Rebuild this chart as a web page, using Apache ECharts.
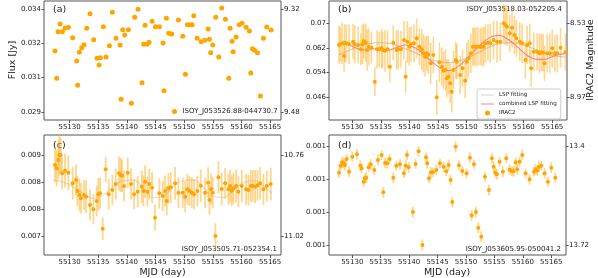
<!DOCTYPE html>
<html><head><meta charset="utf-8">
<script src="https://cdn.jsdelivr.net/npm/echarts@6/dist/echarts.min.js"></script>
<style>html,body{margin:0;padding:0;background:#fff}#c{width:598px;height:278px}</style>
</head><body><div id="c"></div>
<script>
// ---------- tick labels ----------
const xTicks = [55130,55135,55140,55145,55150,55155,55160,55165];
const magTicksA = [9.32, 9.48];
const magTicksB = [8.53, 8.97];
const magTicksC = [10.76, 11.02];
const magTicksD = [13.4, 13.72];

// ---------- names ----------
const nameA = 'ISOY_J053526.88-044730.7';
const nameB = 'ISOY_J053518.03-052205.4';
const nameC = 'ISOY_J053505.71-052354.1';
const nameD = 'ISOY_J053605.95-050041.2';

// ---------- panel (a) ----------
const mjdA = [55127.46,55127.75,55127.99,55128.34,55128.74,55129.21,55129.79,55130.55,55131.25,55131.42,55131.71,55132.12,55132.53,55132.99,55133.57,55134.21,55134.80,55135.15,55135.38,55135.90,55136.37,55136.95,55137.47,55138.11,55138.81,55138.99,55139.28,55139.63,55140.27,55140.79,55141.37,55141.96,55142.65,55142.94,55143.18,55143.53,55143.88,55144.40,55144.98,55145.68,55146.32,55146.49,55146.90,55147.31,55147.83,55149.00,55149.75,55150.22,55150.57,55150.92,55151.38,55151.67,55152.26,55152.96,55153.60,55154.18,55154.41,55154.64,55154.99,55155.52,55156.04,55156.56,55157.20,55157.79,55158.02,55158.37,55158.54,55159.07,55159.59,55160.11,55160.81,55161.39,55161.63,55161.92,55162.27,55162.79,55163.31,55163.84,55164.42,55165.18];
const fluxA = [0.031738,0.030516,0.032603,0.032946,0.032603,0.032752,0.032797,0.032335,0.031291,0.030203,0.031679,0.031887,0.032021,0.032752,0.033408,0.032245,0.03141,0.031112,0.03144,0.032826,0.03147,0.031977,0.033467,0.032305,0.032007,0.029577,0.032692,0.032454,0.032692,0.029398,0.033244,0.033602,0.030322,0.032036,0.032886,0.032036,0.032126,0.033065,0.032826,0.032826,0.032096,0.029964,0.033199,0.032528,0.032498,0.033125,0.032394,0.030695,0.032916,0.032916,0.032916,0.033318,0.032305,0.032156,0.032215,0.032722,0.03226,0.031664,0.032007,0.033244,0.03147,0.033661,0.033154,0.030516,0.032752,0.032171,0.031708,0.032364,0.032916,0.032976,0.032797,0.032633,0.030754,0.031843,0.031768,0.031664,0.029726,0.032305,0.032812,0.032677];

// ---------- panel (b) ----------
const mjdB = [55127.66,55127.89,55128.19,55128.54,55128.65,55128.95,55129.42,55130.12,55130.41,55131.00,55131.47,55131.76,55132.00,55132.35,55132.58,55132.88,55133.34,55133.93,55134.34,55134.69,55135.10,55135.28,55135.69,55136.16,55136.57,55137.16,55137.74,55138.04,55138.50,55139.03,55139.33,55139.62,55139.97,55140.26,55140.79,55141.26,55141.73,55142.14,55142.43,55142.73,55143.02,55143.31,55143.72,55144.19,55144.78,55145.25,55145.66,55145.95,55146.30,55146.54,55146.83,55147.12,55147.42,55147.71,55148.12,55148.30,55148.88,55149.29,55149.76,55150.05,55150.35,55150.76,55151.11,55151.34,55151.64,55151.99,55152.40,55152.69,55152.99,55153.28,55153.75,55154.16,55154.74,55155.33,55155.92,55156.50,55156.80,55157.09,55157.56,55157.97,55158.38,55158.73,55159.32,55159.73,55160.31,55160.61,55161.08,55161.31,55161.78,55162.37,55162.78,55163.13,55163.42,55163.66,55164.13,55164.59,55165.01,55165.47,55165.88,55166.47,55167.35];
const fluxB = [0.06280,0.06301,0.06332,0.05936,0.06332,0.06332,0.06301,0.06385,0.06301,0.06280,0.06144,0.06301,0.06405,0.06353,0.06123,0.06228,0.06197,0.05131,0.06144,0.06144,0.06176,0.06123,0.06103,0.06144,0.05602,0.06353,0.06123,0.06144,0.06144,0.06437,0.05288,0.06385,0.06228,0.06311,0.06332,0.06489,0.06228,0.06144,0.06019,0.05915,0.06019,0.05977,0.05706,0.05967,0.04640,0.05737,0.05602,0.05476,0.05497,0.05236,0.05288,0.05079,0.04818,0.05497,0.05810,0.05758,0.05340,0.05549,0.05163,0.05758,0.05862,0.06019,0.06228,0.06228,0.06228,0.06228,0.06228,0.06228,0.06228,0.06332,0.06353,0.06332,0.06437,0.06385,0.06385,0.06959,0.06907,0.06855,0.06646,0.06823,0.06594,0.06489,0.06385,0.06332,0.05810,0.06280,0.06332,0.05549,0.06071,0.06071,0.06019,0.06050,0.06040,0.05706,0.06019,0.06019,0.06176,0.06019,0.06019,0.06197,0.06050];
const errB = [0.0060,0.0055,0.0065,0.0050,0.0060,0.0058,0.0062,0.0055,0.0060,0.0058,0.0050,0.0062,0.0055,0.0060,0.0065,0.0058,0.0050,0.0045,0.0060,0.0055,0.0062,0.0058,0.0065,0.0060,0.0050,0.0055,0.0062,0.0060,0.0058,0.0060,0.0050,0.0065,0.0060,0.0055,0.0060,0.0062,0.0058,0.0065,0.0060,0.0062,0.0055,0.0060,0.0065,0.0058,0.0055,0.0062,0.0060,0.0058,0.0065,0.0060,0.0055,0.0062,0.0065,0.0060,0.0058,0.0055,0.0060,0.0058,0.0055,0.0060,0.0058,0.0062,0.0060,0.0058,0.0062,0.0060,0.0058,0.0060,0.0062,0.0060,0.0058,0.0062,0.0060,0.0065,0.0060,0.0060,0.0062,0.0060,0.0058,0.0062,0.0060,0.0058,0.0060,0.0062,0.0058,0.0060,0.0062,0.0058,0.0060,0.0058,0.0062,0.0060,0.0058,0.0055,0.0060,0.0062,0.0060,0.0058,0.0060,0.0062,0.0058];
const lspMjdB = [55127.66,55129.53,55131.29,55133.05,55134.81,55136.57,55138.33,55140.09,55141.85,55143.60,55145.36,55147.12,55148.88,55150.64,55152.40,55154.16,55155.92,55157.68,55159.43,55161.19,55162.95,55164.71,55166.47,55167.35];
const lspB = [0.05967,0.06123,0.06249,0.06332,0.06353,0.06332,0.06228,0.06103,0.05967,0.05831,0.05758,0.05727,0.05789,0.05915,0.06071,0.06228,0.06332,0.06353,0.06311,0.06207,0.06071,0.05967,0.05915,0.05894];
const combMjdB = [55127.66,55128.95,55130.12,55131.29,55132.47,55133.64,55134.81,55135.98,55137.16,55138.33,55139.21,55140.09,55141.26,55142.43,55143.60,55144.78,55145.95,55146.83,55147.71,55148.88,55150.05,55151.23,55152.40,55153.57,55154.74,55155.62,55156.50,55157.68,55158.85,55160.02,55161.19,55162.37,55163.54,55164.71,55165.88,55167.35];
const combB = [0.06311,0.06301,0.06228,0.06144,0.06123,0.06165,0.06144,0.06103,0.06165,0.06238,0.06280,0.06259,0.06165,0.05998,0.05810,0.05633,0.05518,0.05476,0.05518,0.05654,0.05852,0.06071,0.06280,0.06457,0.06562,0.06583,0.06541,0.06405,0.06228,0.06040,0.05894,0.05831,0.05831,0.05894,0.05967,0.06019];

// ---------- panel (c) ----------
const mjdC = [55127.46,55127.75,55128.05,55128.22,55128.45,55128.69,55129.21,55129.79,55130.55,55131.13,55131.36,55131.71,55132.00,55132.53,55132.88,55133.57,55134.16,55134.74,55135.03,55135.32,55135.79,55136.31,55136.83,55137.47,55138.06,55138.64,55138.93,55139.16,55139.51,55140.15,55140.73,55141.26,55141.90,55142.60,55142.89,55143.18,55143.58,55143.93,55144.40,55144.92,55145.68,55146.26,55146.67,55146.96,55147.25,55147.66,55148.42,55149.00,55149.75,55150.16,55150.57,55150.92,55151.33,55151.73,55152.31,55152.90,55153.65,55154.18,55154.41,55154.70,55154.99,55155.46,55155.98,55156.56,55157.15,55157.73,55158.02,55158.31,55158.60,55159.07,55159.47,55160.06,55160.81,55161.22,55161.63,55161.98,55162.38,55162.79,55163.26,55163.84,55164.42,55165.12];
const fluxC = [0.008691,0.008614,0.008807,0.008924,0.008924,0.008497,0.008559,0.008513,0.008265,0.008342,0.008086,0.007993,0.007915,0.007993,0.007954,0.007760,0.007660,0.007853,0.008009,0.008032,0.007210,0.008590,0.008009,0.008109,0.008249,0.008497,0.008458,0.008443,0.008202,0.008513,0.008249,0.008009,0.008071,0.008187,0.008086,0.008303,0.008071,0.008249,0.008164,0.007466,0.008032,0.007970,0.008086,0.007853,0.008148,0.008171,0.008264,0.008047,0.008047,0.007954,0.008125,0.008086,0.008047,0.008009,0.008086,0.008210,0.008047,0.008280,0.007877,0.008133,0.008047,0.007039,0.008404,0.008133,0.008264,0.008125,0.008202,0.008094,0.008148,0.008202,0.008071,0.008202,0.008125,0.008109,0.008202,0.008210,0.008187,0.008218,0.008264,0.008125,0.008202,0.008249];
const errC = [0.00040,0.00042,0.00045,0.00045,0.00040,0.00038,0.00040,0.00040,0.00038,0.00036,0.00035,0.00038,0.00036,0.00035,0.00038,0.00036,0.00035,0.00036,0.00038,0.00036,0.00026,0.00030,0.00036,0.00035,0.00036,0.00040,0.00040,0.00038,0.00036,0.00035,0.00036,0.00035,0.00036,0.00038,0.00036,0.00038,0.00035,0.00036,0.00036,0.00030,0.00036,0.00035,0.00036,0.00034,0.00036,0.00036,0.00038,0.00036,0.00035,0.00036,0.00036,0.00035,0.00036,0.00035,0.00036,0.00038,0.00036,0.00036,0.00035,0.00036,0.00036,0.00030,0.00038,0.00038,0.00036,0.00036,0.00038,0.00036,0.00036,0.00038,0.00036,0.00038,0.00036,0.00036,0.00038,0.00036,0.00038,0.00036,0.00038,0.00036,0.00036,0.00038];
const lspMjdC = [55127.17,55129.50,55131.83,55134.16,55135.90,55137.65,55139.39,55141.14,55142.89,55144.63,55146.38,55148.12,55149.87,55151.62,55153.36,55155.11,55156.85,55158.60,55160.35,55162.09,55163.84,55165.29];
const lspC = [0.008342,0.008264,0.008071,0.007915,0.007993,0.008187,0.008327,0.008342,0.008148,0.007931,0.007970,0.008187,0.008327,0.008342,0.008171,0.007954,0.007939,0.008109,0.008280,0.008327,0.008202,0.008032];

// ---------- panel (d) ----------
const mjdD = [55127.66,55127.95,55128.24,55128.48,55128.71,55129.01,55129.42,55130.00,55130.82,55131.41,55131.64,55132.00,55132.23,55132.46,55132.88,55133.23,55133.87,55134.52,55135.16,55135.46,55135.75,55136.16,55136.57,55137.21,55137.74,55138.39,55139.09,55139.38,55139.62,55139.91,55140.67,55141.14,55141.67,55142.33,55142.96,55143.19,55143.49,55143.84,55144.19,55144.78,55145.42,55146.07,55146.54,55146.95,55147.30,55147.59,55148.18,55148.77,55149.35,55150.11,55150.70,55150.99,55151.40,55151.75,55152.16,55152.69,55153.34,55154.04,55154.57,55154.86,55155.15,55155.45,55155.92,55156.50,55157.09,55157.68,55158.09,55158.38,55158.73,55159.02,55159.43,55159.90,55160.49,55161.19,55161.96,55162.25,55162.54,55162.84,55163.25,55163.83,55164.42,55165.01,55165.71];
const fluxD = [0.00073149,0.00074574,0.00075253,0.00075049,0.00074709,0.00075931,0.00073352,0.00076407,0.00076882,0.00074574,0.00074031,0.00071316,0.00071995,0.00072131,0.00074234,0.00074845,0.00073692,0.00075728,0.00076746,0.00069144,0.00075117,0.00075049,0.00075931,0.00072131,0.00074574,0.00074845,0.00073013,0.00074574,0.00076746,0.00074234,0.00065139,0.00074913,0.00077493,0.00058419,0.00076271,0.00075049,0.00071995,0.00073217,0.00073217,0.00073692,0.00075049,0.00074370,0.00073420,0.00074709,0.00071657,0.00067176,0.00078443,0.00074642,0.00073488,0.00073013,0.00076203,0.00064460,0.00074845,0.00065139,0.00061949,0.00060116,0.00072334,0.00069619,0.00076067,0.00074370,0.00073149,0.00072809,0.00075389,0.00073352,0.00076067,0.00073760,0.00073420,0.00073420,0.00075253,0.00073827,0.00075389,0.00076746,0.00073013,0.00071791,0.00073352,0.00073827,0.00073556,0.00074370,0.00074574,0.00073013,0.00071316,0.00074167,0.00072131];
const errD = [0.000011,0.000010,0.000011,0.000010,0.000011,0.000010,0.000011,0.000010,0.000011,0.000011,0.000010,0.000011,0.000010,0.000011,0.000010,0.000011,0.000010,0.000011,0.000010,0.000011,0.000010,0.000011,0.000010,0.000011,0.000010,0.000011,0.000010,0.000011,0.000010,0.000011,0.000011,0.000010,0.000011,0.000011,0.000010,0.000011,0.000010,0.000011,0.000010,0.000011,0.000010,0.000011,0.000010,0.000011,0.000011,0.000011,0.000011,0.000010,0.000011,0.000010,0.000011,0.000011,0.000010,0.000011,0.000011,0.000011,0.000010,0.000011,0.000010,0.000011,0.000010,0.000011,0.000010,0.000011,0.000010,0.000011,0.000010,0.000011,0.000010,0.000011,0.000010,0.000011,0.000010,0.000011,0.000010,0.000011,0.000010,0.000011,0.000010,0.000011,0.000010,0.000011,0.000010];

// ---------- helpers ----------
const ZP = 179.7; // IRAC2 zero-point flux (Jy)
const magToFlux = m => ZP * Math.pow(10, -0.4 * m);
const fluxToMag = f => -2.5 * Math.log10(f / ZP);
const zip2 = (a, b) => a.map((v, i) => [v, b[i]]);
const zip3 = (a, b, c) => a.map((v, i) => [v, b[i], c[i]]);
const leftTicks = mags => { const t = magToFlux(mags[0]), b = magToFlux(mags[1]); return [0,1,2,3].map(i => t + (b - t) * i / 3); };
const rightTicks = mags => mags.map(magToFlux);

const ORANGE = '#FFA500';
const BAR = 'rgba(255,165,0,0.45)';
const FRAME = '#555';
const TXT = '#222';
const FONT = 'DejaVu Sans';
const GRAY_FIT = '#d0d0d0';
const RED_FIT = '#ff8080';

const panels = [
  {left:44,  top:1,   width:237, height:119, xmin:55125.54, xmax:55166.9, ymin:0.028652, ymax:0.033974, mags:magTicksA},
  {left:329, top:1,   width:238, height:119, xmin:55125.9,  xmax:55167.6, ymin:0.039301, ymax:0.07659,  mags:magTicksB},
  {left:44,  top:135, width:237, height:120, xmin:55125.54, xmax:55166.9, ymin:0.0065969, ymax:0.0093891, mags:magTicksC},
  {left:329, top:135, width:237, height:120, xmin:55125.9,  xmax:55167.6, ymin:0.00056382, ymax:0.00080819, mags:magTicksD}
];

const grid = [], xAxis = [], yAxis = [];
panels.forEach((p, k) => {
  grid.push({left:p.left, top:p.top, width:p.width, height:p.height, show:true, borderColor:FRAME, borderWidth:1, backgroundColor:'transparent'});
  xAxis.push({type:'value', gridIndex:k, min:p.xmin, max:p.xmax, position:'bottom',
    axisLine:{show:false}, splitLine:{show:false},
    axisTick:{show:true, length:3, lineStyle:{color:FRAME}, customValues:xTicks},
    axisLabel:{customValues:xTicks, margin:4, fontSize:7, color:TXT, fontFamily:FONT, formatter:v => String(v)}});
  const lt = leftTicks(p.mags), rt = rightTicks(p.mags);
  yAxis.push({type:'value', gridIndex:k, min:p.ymin, max:p.ymax, position:'left',
    axisLine:{show:false}, splitLine:{show:false},
    axisTick:{show:true, length:2.5, lineStyle:{color:FRAME}, customValues:lt},
    axisLabel:{customValues:lt, margin:3, fontSize:7, color:TXT, fontFamily:FONT, formatter:v => String(parseFloat(v.toFixed(3)))}});
  yAxis.push({type:'value', gridIndex:k, min:p.ymin, max:p.ymax, position:'right',
    axisLine:{show:false}, splitLine:{show:false},
    axisTick:{show:true, length:2.5, lineStyle:{color:FRAME}, customValues:rt},
    axisLabel:{customValues:rt, margin:3, fontSize:7, color:TXT, fontFamily:FONT, formatter:v => String(parseFloat(fluxToMag(v).toFixed(2)))}});
});

function errSeries(k, mjd, flux, err, width) {
  return {type:'custom', name:'err'+k, xAxisIndex:k, yAxisIndex:2*k, clip:true, z:2, silent:true,
    data: zip3(mjd, flux, err),
    encode:{x:0, y:1},
    renderItem:(params, api) => {
      const x = api.value(0), y = api.value(1), e = api.value(2);
      const a = api.coord([x, y - e]), b = api.coord([x, y + e]);
      return {type:'line', shape:{x1:a[0], y1:a[1], x2:b[0], y2:b[1]}, style:{stroke:BAR, lineWidth:width}};
    }};
}

const series = [
  {type:'scatter', name:nameA, xAxisIndex:0, yAxisIndex:0, data:zip2(mjdA, fluxA), symbolSize:5, itemStyle:{color:ORANGE, opacity:1}, z:4},

  {type:'line', name:'LSP fitting', xAxisIndex:1, yAxisIndex:2, data:zip2(lspMjdB, lspB), smooth:true, symbol:'none', itemStyle:{color:GRAY_FIT}, lineStyle:{color:GRAY_FIT, width:1.3}, z:1},
  errSeries(1, mjdB, fluxB, errB, 1.6),
  {type:'line', name:'combined LSP fitting', xAxisIndex:1, yAxisIndex:2, data:zip2(combMjdB, combB), smooth:true, symbol:'none', itemStyle:{color:RED_FIT}, lineStyle:{color:RED_FIT, width:1.1}, z:3},
  {type:'scatter', name:'IRAC2', xAxisIndex:1, yAxisIndex:2, data:zip2(mjdB, fluxB), symbolSize:4, itemStyle:{color:ORANGE, opacity:1}, z:4},

  {type:'line', name:'LSP fitting c', xAxisIndex:2, yAxisIndex:4, data:zip2(lspMjdC, lspC), smooth:true, symbol:'none', itemStyle:{color:'#e2e2e2'}, lineStyle:{color:'#e2e2e2', width:1.3}, z:1},
  errSeries(2, mjdC, fluxC, errC, 1.8),
  {type:'scatter', name:'IRAC2 c', xAxisIndex:2, yAxisIndex:4, data:zip2(mjdC, fluxC), symbolSize:4, itemStyle:{color:ORANGE, opacity:1}, z:4},

  errSeries(3, mjdD, fluxD, errD, 1.8),
  {type:'scatter', name:'IRAC2 d', xAxisIndex:3, yAxisIndex:6, data:zip2(mjdD, fluxD), symbolSize:4, itemStyle:{color:ORANGE, opacity:1}, z:4}
];

const txt = (x, y, s, o) => Object.assign({type:'text', x, y, silent:true, style:Object.assign({text:s, fill:TXT, font:'9.5px "DejaVu Sans"', align:'left', verticalAlign:'middle'}, o || {})});

const graphic = [
  txt(53, 10, '(a)'), txt(338, 10, '(b)'), txt(53, 146, '(c)'), txt(338, 146, '(d)'),
  txt(562, 9, nameB, {align:'right', font:'7px "DejaVu Sans"'}),
  txt(277, 249, nameC, {align:'right', font:'7px "DejaVu Sans"'}),
  txt(561, 249, nameD, {align:'right', font:'7px "DejaVu Sans"'}),
  {type:'text', x:13, y:60, rotation:Math.PI/2, silent:true, style:{text:'Flux [Jy]', fill:TXT, font:'9.5px "DejaVu Sans"', align:'center', verticalAlign:'middle'}},
  {type:'text', x:591, y:60, rotation:Math.PI/2, silent:true, style:{text:'IRAC2 Magnitude', fill:TXT, font:'9.5px "DejaVu Sans"', align:'center', verticalAlign:'middle'}},
  txt(162.5, 272.5, 'MJD (day)', {align:'center'}),
  txt(447, 272.5, 'MJD (day)', {align:'center'})
];

const LINE_ICON = 'path://M0,0H40V3H0Z';
const legend = [
  {data:[{name:nameA, icon:'circle'}], left:172, top:108, itemWidth:6, itemHeight:5, itemGap:2, selectedMode:false,
   textStyle:{fontSize:7, color:TXT, fontFamily:FONT}, padding:0},
  {data:[{name:'LSP fitting', icon:LINE_ICON},{name:'combined LSP fitting', icon:LINE_ICON},{name:'IRAC2', icon:'circle'}],
   orient:'vertical', left:477, top:89,
   itemWidth:13, itemHeight:5, itemGap:3, selectedMode:false, padding:[3,4,3,4],
   backgroundColor:'rgba(255,255,255,0.85)', borderColor:'#ccc', borderWidth:1, borderRadius:2,
   textStyle:{fontSize:5.6, color:TXT, fontFamily:FONT}}
];

const chart = echarts.init(document.getElementById('c'), null, {renderer:'canvas'});
chart.setOption({animation:false, backgroundColor:'#fff', textStyle:{fontFamily:FONT}, grid, xAxis, yAxis, series, graphic, legend});
</script></body></html>
